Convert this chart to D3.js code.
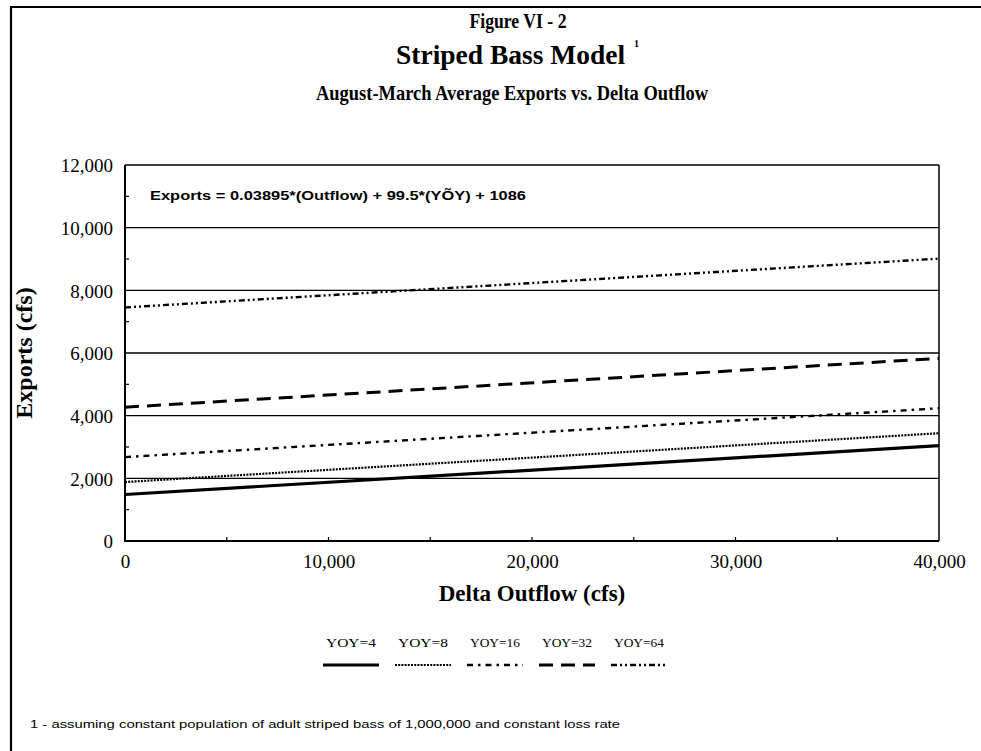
<!DOCTYPE html>
<html>
<head>
<meta charset="utf-8">
<script src="https://cdn.jsdelivr.net/npm/d3@7"></script>
<style>
  html, body { margin: 0; padding: 0; background: #fff; }
  svg { display: block; }
</style>
</head>
<body>
<svg id="chart" width="981" height="751"></svg>
<script>
// Delta outflow range (cfs) at which each line is evaluated
const outflow = [0, 40000];

// Series: young-of-year index and exports (cfs) at each outflow value
const seriesNames = ["YOY=4", "YOY=8", "YOY=16", "YOY=32", "YOY=64"];
const yoy4  = [1484, 3042];
const yoy8  = [1882, 3440];
const yoy16 = [2678, 4236];
const yoy32 = [4270, 5828];
const yoy64 = [7454, 9012];
const seriesValues = [yoy4, yoy8, yoy16, yoy32, yoy64];

// Axis ticks
const yTicks = [0, 2000, 4000, 6000, 8000, 10000, 12000];
const yMinorTicks = [1000, 3000, 5000, 7000, 9000, 11000];
const xTicks = [0, 10000, 20000, 30000, 40000];
const xMinorTicks = [5000, 10000, 15000, 20000, 25000, 30000, 35000];

// Line styles per series
const styles = [
  { width: 3.2, dash: null },
  { width: 2.2, dash: "2,1.2" },
  { width: 2.4, dash: "6,5,2.5,5" },
  { width: 3.0, dash: "14,8" },
  { width: 2.4, dash: "6,3,2,3,2,3" }
];

const svg = d3.select("#chart");
const serif = "'Liberation Serif', 'Times New Roman', serif";
const sans = "'Liberation Sans', Arial, sans-serif";

// Page frame
svg.append("line").attr("x1", 11).attr("x2", 11).attr("y1", 6).attr("y2", 751)
  .attr("stroke", "#000").attr("stroke-width", 2.2);
svg.append("line").attr("x1", 10).attr("x2", 981).attr("y1", 7).attr("y2", 7)
  .attr("stroke", "#000").attr("stroke-width", 2.2);

// Titles
svg.append("text").attr("x", 518).attr("y", 28).attr("text-anchor", "middle")
  .attr("font-family", serif).attr("font-weight", "bold").attr("font-size", 20)
  .attr("textLength", 97).attr("lengthAdjust", "spacingAndGlyphs")
  .text("Figure VI - 2");
svg.append("text").attr("x", 396).attr("y", 64)
  .attr("font-family", serif).attr("font-weight", "bold").attr("font-size", 27.5)
  .text("Striped Bass Model");
svg.append("text").attr("x", 634).attr("y", 47)
  .attr("font-family", serif).attr("font-weight", "bold").attr("font-size", 10)
  .text("1");
svg.append("text").attr("x", 512).attr("y", 100).attr("text-anchor", "middle")
  .attr("font-family", serif).attr("font-weight", "bold").attr("font-size", 22)
  .attr("textLength", 392).attr("lengthAdjust", "spacingAndGlyphs")
  .text("August-March Average Exports vs. Delta Outflow");

// Plot area
const plotLeft = 125, plotRight = 939, plotTop = 165, plotBottom = 541;
const x = d3.scaleLinear().domain([0, 40000]).range([plotLeft, plotRight]);
const y = d3.scaleLinear().domain([0, 12000]).range([plotBottom, plotTop]);
const fmt = d3.format(",");

// Gridlines
svg.append("g").selectAll("line").data(yTicks.filter(d => d > 0 && d < 12000)).join("line")
  .attr("x1", plotLeft).attr("x2", plotRight)
  .attr("y1", d => y(d)).attr("y2", d => y(d))
  .attr("stroke", "#000").attr("stroke-width", 1.3);

// Frame of plot
svg.append("line").attr("x1", plotLeft).attr("x2", plotRight).attr("y1", plotTop).attr("y2", plotTop)
  .attr("stroke", "#000").attr("stroke-width", 1.5);
svg.append("line").attr("x1", plotRight).attr("x2", plotRight).attr("y1", plotTop).attr("y2", plotBottom)
  .attr("stroke", "#000").attr("stroke-width", 1.5);

// Minor inside ticks
svg.append("g").selectAll("line").data(yMinorTicks).join("line")
  .attr("x1", plotLeft).attr("x2", plotLeft + 4)
  .attr("y1", d => y(d)).attr("y2", d => y(d))
  .attr("stroke", "#000").attr("stroke-width", 1.2);
svg.append("g").selectAll("line").data(xMinorTicks).join("line")
  .attr("x1", d => x(d)).attr("x2", d => x(d))
  .attr("y1", plotBottom).attr("y2", plotBottom - 4)
  .attr("stroke", "#000").attr("stroke-width", 1.2);

// Axes (labels only; lines drawn below)
const yAxis = svg.append("g").attr("transform", `translate(${plotLeft},0)`)
  .call(d3.axisLeft(y).tickValues(yTicks).tickFormat(fmt).tickSize(0).tickPadding(12));
const xAxis = svg.append("g").attr("transform", `translate(0,${plotBottom})`)
  .call(d3.axisBottom(x).tickValues(xTicks).tickFormat(fmt).tickSize(0).tickPadding(11));
[yAxis, xAxis].forEach(a => {
  a.select(".domain").remove();
  a.selectAll("text").attr("font-family", serif).attr("font-size", 19).attr("fill", "#000");
});
yAxis.selectAll("text").attr("dy", "0.36em");
xAxis.selectAll("text").attr("dy", "0.85em");

svg.append("line").attr("x1", plotLeft).attr("x2", plotLeft).attr("y1", plotTop).attr("y2", plotBottom + 1)
  .attr("stroke", "#000").attr("stroke-width", 2);
svg.append("line").attr("x1", plotLeft - 1).attr("x2", plotRight).attr("y1", plotBottom).attr("y2", plotBottom)
  .attr("stroke", "#000").attr("stroke-width", 2);

// Axis titles
svg.append("text").attr("transform", `translate(32,353) rotate(-90)`)
  .attr("text-anchor", "middle")
  .attr("font-family", serif).attr("font-weight", "bold").attr("font-size", 24)
  .text("Exports (cfs)");
svg.append("text").attr("x", 532).attr("y", 601).attr("text-anchor", "middle")
  .attr("font-family", serif).attr("font-weight", "bold").attr("font-size", 23)
  .text("Delta Outflow (cfs)");

// Equation
svg.append("text").attr("x", 150).attr("y", 200)
  .attr("font-family", sans).attr("font-weight", "bold").attr("font-size", 13.5)
  .attr("textLength", 376).attr("lengthAdjust", "spacingAndGlyphs")
  .text("Exports = 0.03895*(Outflow) + 99.5*(YÕY) + 1086");

// Series lines
const line = d3.line().x(d => x(d[0])).y(d => y(d[1]));
svg.append("g").selectAll("path").data(seriesValues).join("path")
  .attr("d", vals => line(vals.map((v, i) => [outflow[i], v])))
  .attr("fill", "none").attr("stroke", "#000")
  .attr("stroke-width", (d, i) => styles[i].width)
  .attr("stroke-dasharray", (d, i) => styles[i].dash);

// Legend
const legendX = d3.scalePoint().domain(seriesNames).range([351, 639]);
const lg = svg.append("g");
lg.selectAll("text").data(seriesNames).join("text")
  .attr("x", d => legendX(d)).attr("y", 647).attr("text-anchor", "middle")
  .attr("font-family", serif).attr("font-size", 13)
  .attr("textLength", 50).attr("lengthAdjust", "spacingAndGlyphs")
  .text(d => d);
lg.selectAll("line").data(seriesNames).join("line")
  .attr("x1", d => legendX(d) - 28).attr("x2", d => legendX(d) + 28)
  .attr("y1", 665).attr("y2", 665)
  .attr("stroke", "#000")
  .attr("stroke-width", (d, i) => styles[i].width)
  .attr("stroke-dasharray", (d, i) => styles[i].dash);

// Footnote
svg.append("text").attr("x", 30).attr("y", 728)
  .attr("font-family", sans).attr("font-size", 11.5)
  .attr("textLength", 590).attr("lengthAdjust", "spacingAndGlyphs")
  .text("1 - assuming constant population of adult striped bass of 1,000,000 and constant loss rate");
</script>
</body>
</html>
